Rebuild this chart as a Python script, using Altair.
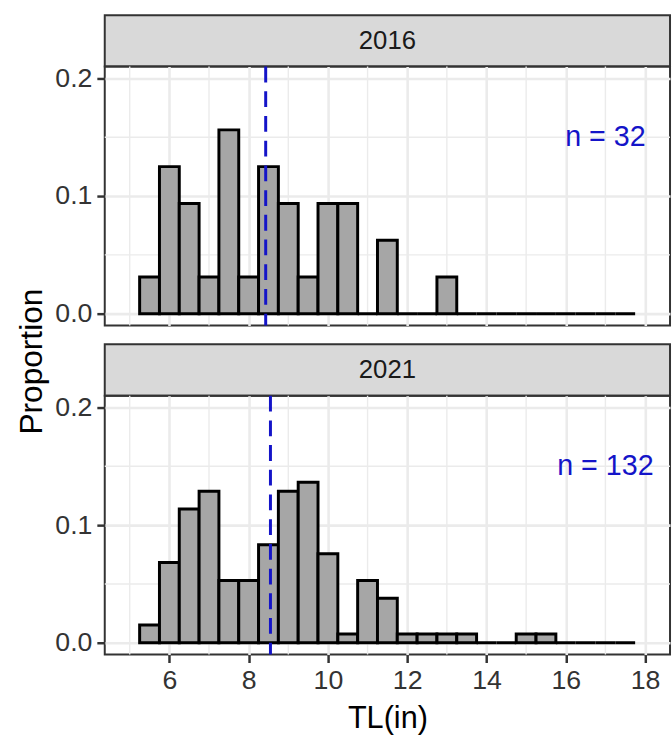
import altair as alt
import pandas as pd

# ---------------- data ----------------
years = ["2016", "2021"]
n_fish = [32, 132]
bin_lo = [5.25, 5.75, 6.25, 6.75, 7.25, 7.75, 8.25, 8.75, 9.25, 9.75, 10.25, 10.75,
          11.25, 11.75, 12.25, 12.75, 13.25, 13.75, 14.25, 14.75, 15.25, 15.75,
          16.25, 16.75, 17.25]
bin_hi = [5.75, 6.25, 6.75, 7.25, 7.75, 8.25, 8.75, 9.25, 9.75, 10.25, 10.75, 11.25,
          11.75, 12.25, 12.75, 13.25, 13.75, 14.25, 14.75, 15.25, 15.75, 16.25,
          16.75, 17.25, 17.75]
counts_2016 = [1, 4, 3, 1, 5, 1, 4, 3, 1, 3, 3, 0, 2, 0, 0, 1, 0, 0, 0, 0, 0, 0, 0, 0, 0]
counts_2021 = [2, 9, 15, 17, 7, 7, 11, 17, 18, 10, 1, 7, 5, 1, 1, 1, 1, 0, 0, 1, 1, 0, 0, 0, 0]
counts = [counts_2016, counts_2021]
mean_tl = [8.43, 8.55]
label_x = [17, 17]
label_y = [0.15, 0.15]

x_major = [6, 8, 10, 12, 14, 16, 18]
x_minor = [5, 7, 9, 11, 13, 15, 17]
y_major = [0.0, 0.1, 0.2]
y_minor = [0.05, 0.15]

# ---------------- style ----------------
FONT = "Liberation Sans"
GRID = "#EBEBEB"
BLUE = "#1414C8"
DARK = "#333333"
W = 572
H = 262
STRIP_H = 52
GAP = 19

xscale = alt.Scale(domain=[4.37, 18.63], nice=False, zero=False)
yscale = alt.Scale(domain=[-0.01, 0.21], nice=False, zero=False)


def panel(i, bottom):
    df = pd.DataFrame({
        "lo": bin_lo,
        "hi": bin_hi,
        "base": [0.0] * len(bin_lo),
        "prop": [c / n_fish[i] for c in counts[i]],
    })
    if bottom:
        xaxis = alt.Axis(values=x_major, title="TL(in)", grid=True, gridColor=GRID,
                         gridWidth=2.6, ticks=True, tickSize=8, tickWidth=2.5,
                         tickColor=DARK, labelFontSize=27, labelColor=DARK,
                         labelPadding=5, labelFlush=False, labelOverlap=False,
                         titleFontSize=31, titleFontWeight="normal", titleColor="#000000",
                         titlePadding=11, domain=False)
    else:
        xaxis = alt.Axis(values=x_major, title=None, grid=True, gridColor=GRID,
                         gridWidth=2.6, ticks=False, labels=False, domain=False)
    if i == 0:
        yaxis = alt.Axis(values=y_major, format=".1f", grid=True, gridColor=GRID,
                         gridWidth=2.6, tickSize=8, tickWidth=2.5, tickColor=DARK,
                         labelFontSize=27, labelColor=DARK, labelPadding=5,
                         domain=False, title="Proportion", titleFontSize=32,
                         titleFontWeight="normal", titleColor="#000000",
                         titleX=-64, titleY=298, titleAngle=270, titleAlign="center",
                         titleBaseline="alphabetic")
    else:
        yaxis = alt.Axis(values=y_major, format=".1f", grid=True, gridColor=GRID,
                         gridWidth=2.6, tickSize=8, tickWidth=2.5, tickColor=DARK,
                         labelFontSize=27, labelColor=DARK, labelPadding=5,
                         domain=False, title=None)

    minor_v = alt.Chart(pd.DataFrame({"x": x_minor})).mark_rule(
        color=GRID, strokeWidth=1.4
    ).encode(x=alt.X("x:Q", scale=xscale, axis=xaxis))

    minor_h = alt.Chart(pd.DataFrame({"y": y_minor})).mark_rule(
        color=GRID, strokeWidth=1.4
    ).encode(y=alt.Y("y:Q", scale=yscale, axis=yaxis))

    bars = alt.Chart(df).mark_rect(
        fill="#A6A6A6", stroke="#000000", strokeWidth=3
    ).encode(
        x=alt.X("lo:Q", scale=xscale, axis=xaxis),
        x2="hi:Q",
        y=alt.Y("base:Q", scale=yscale, axis=yaxis),
        y2="prop:Q",
    )

    vline = alt.Chart(pd.DataFrame({"m": [mean_tl[i]]})).mark_rule(
        color=BLUE, strokeWidth=3, strokeDash=[16, 9]
    ).encode(x=alt.X("m:Q", scale=xscale, axis=xaxis))

    label = alt.Chart(pd.DataFrame({
        "lx": [label_x[i]], "ly": [label_y[i]], "t": ["n = " + str(n_fish[i])]
    })).mark_text(
        color=BLUE, fontSize=29, font=FONT, align="center", baseline="middle"
    ).encode(
        x=alt.X("lx:Q", scale=xscale, axis=xaxis),
        y=alt.Y("ly:Q", scale=yscale, axis=yaxis),
        text="t:N",
    )

    return alt.layer(minor_v, minor_h, bars, vline, label).properties(
        width=W, height=H,
        view=alt.ViewBackground(stroke=DARK, strokeWidth=2),
    )


def strip(i, gap):
    base = alt.Chart(pd.DataFrame({"label": [years[i]]}))
    rect = base.mark_rect(fill="#D9D9D9", stroke=DARK, strokeWidth=2).encode(
        x=alt.value(0), x2=alt.value(W),
        y=alt.value(gap), y2=alt.value(gap + STRIP_H),
    )
    txt = base.mark_text(fontSize=26, color="#1A1A1A", font=FONT,
                         align="center", baseline="middle").encode(
        x=alt.value(W / 2), y=alt.value(gap + STRIP_H / 2), text="label:N"
    )
    return alt.layer(rect, txt).properties(
        width=W, height=gap + STRIP_H,
        view=alt.ViewBackground(stroke="transparent"),
    )


chart = alt.vconcat(
    strip(0, 0), panel(0, False), strip(1, GAP), panel(1, True),
    spacing=0, bounds="flush",
).properties(
    padding={"left": 15, "top": 9, "right": 0, "bottom": 0},
    background="white",
).configure_axis(
    labelFont=FONT, titleFont=FONT,
).configure_text(font=FONT).configure_view(stroke="transparent")

chart.save("out.html", embed_options={"renderer": "svg", "actions": False})
